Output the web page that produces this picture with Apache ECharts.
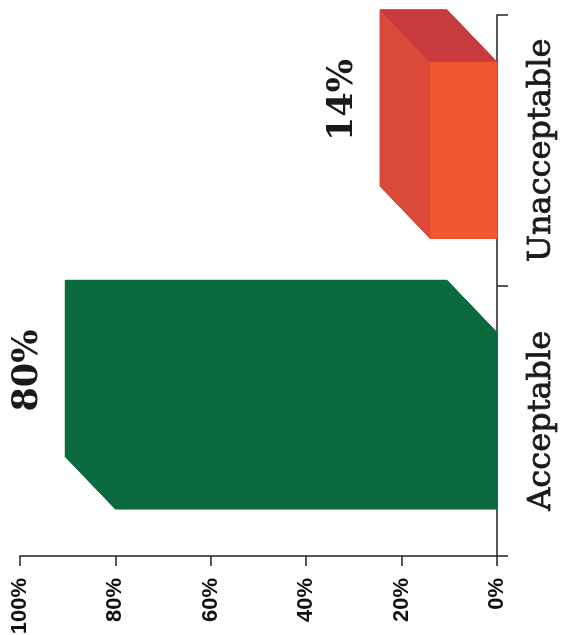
<!DOCTYPE html>
<html>
<head>
<meta charset="utf-8">
<script src="https://cdn.jsdelivr.net/npm/echarts@6/dist/echarts.min.js"></script>
<style>
  html, body { margin: 0; padding: 0; background: #ffffff; }
  #chart { width: 565px; height: 635px; }
</style>
</head>
<body>
<div id="chart"></div>
<script>
// Survey result: share of responses per rating
const categories = ['Acceptable', 'Unacceptable'];
const shares = [80, 14];
const valueTickLabels = ['0%', '20%', '40%', '60%', '80%', '100%'];
const valueLabels = ['80%', '14%'];

// Face colours of each 3D block: front, end cap, upper side
const palette = [
  { front: '#0a6a3d', cap: '#0a6a3d', side: '#0a6a3d' },
  { front: '#f0572e', cap: '#da4a39', side: '#c73a3e' }
];

function face(points, color) {
  return {
    type: 'polygon',
    shape: { points: points },
    style: { fill: color, stroke: color, lineWidth: 0.8, lineJoin: 'miter' }
  };
}

function renderItem(params, api) {
  const i = params.dataIndex;
  const value = api.value(0);
  const cat = api.value(1);
  const base = api.coord([0, cat]);
  const tip = api.coord([value, cat]);
  const band = api.size([0, 1])[1];
  const half = band * 0.326;
  const dx = -band * 0.185;
  const dy = -band * 0.193;
  const cy = base[1];
  const top = cy - half, bottom = cy + half;
  const c = palette[i];
  // outline of the whole block, painted first so face seams do not show
  const hull = [
    [base[0], top], [base[0], bottom], [tip[0], bottom],
    [tip[0] + dx, bottom + dy], [tip[0] + dx, top + dy], [base[0] + dx, top + dy]
  ];
  return {
    type: 'group',
    children: [
      face(hull, c.side),
      face([[tip[0], top], [tip[0], bottom], [tip[0] + dx, bottom + dy], [tip[0] + dx, top + dy]], c.cap),
      face([[tip[0], top], [base[0], top], [base[0] + dx, top + dy], [tip[0] + dx, top + dy]], c.side),
      face([[tip[0], top], [base[0], top], [base[0], bottom], [tip[0], bottom]], c.front),
      {
        type: 'text',
        x: tip[0] + dx - 37,
        y: cy + dy + 2,
        rotation: Math.PI / 2,
        style: {
          text: valueLabels[i],
          font: 'bold 35px "DejaVu Serif", serif',
          fill: '#1a1a1a',
          align: 'center',
          verticalAlign: 'middle'
        }
      }
    ]
  };
}

const chart = echarts.init(document.getElementById('chart'), null, { renderer: 'canvas' });
chart.setOption({
  animation: false,
  backgroundColor: '#ffffff',
  grid: { left: 20, right: 68, top: 15, bottom: 79, containLabel: false, outerBoundsMode: 'none' },
  xAxis: {
    type: 'value',
    inverse: true,
    min: 0,
    max: 100,
    interval: 20,
    position: 'bottom',
    axisLine: { show: true, lineStyle: { color: '#222', width: 1.5 } },
    axisTick: { show: true, inside: false, length: 10, lineStyle: { color: '#222', width: 1.5 } },
    splitLine: { show: false },
    axisLabel: {
      rotate: 90,
      margin: 22,
      color: '#111',
      fontFamily: 'Liberation Sans, Arial, sans-serif',
      fontWeight: 'bold',
      fontSize: 22,
      formatter: function (v) { return valueTickLabels[Math.round(v / 20)]; }
    }
  },
  yAxis: {
    type: 'category',
    position: 'right',
    data: categories,
    axisLine: { show: true, lineStyle: { color: '#222', width: 1.5 } },
    axisTick: { show: true, inside: false, length: 11, alignWithLabel: false, lineStyle: { color: '#222', width: 1.5 } },
    splitLine: { show: false },
    axisLabel: {
      interval: 0,
      hideOverlap: false,
      rotate: 90,
      margin: 29,
      color: '#1a1a1a',
      fontFamily: 'DejaVu Serif, serif',
      fontSize: 32,
      textBorderColor: '#1a1a1a',
      textBorderWidth: 0.8
    }
  },
  series: [{
    type: 'custom',
    renderItem: renderItem,
    encode: { x: 0, y: 1 },
    clip: false,
    data: shares.map(function (v, i) { return [v, i]; })
  }]
});
</script>
</body>
</html>
